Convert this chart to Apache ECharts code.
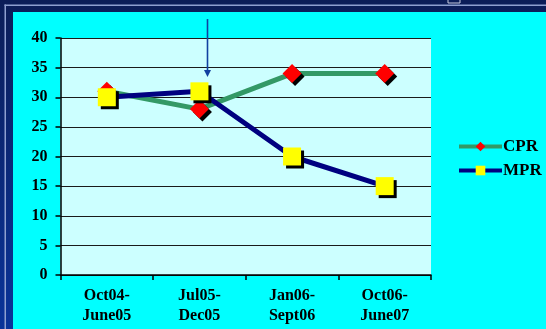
<!DOCTYPE html>
<html>
<head>
<meta charset="utf-8">
<script src="https://cdn.jsdelivr.net/npm/echarts@6/dist/echarts.min.js"></script>
<style>
  html, body { margin: 0; padding: 0; background: #0b2468; }
  #chart { width: 546px; height: 329px; }
</style>
</head>
<body>
<div id="chart"></div>
<script>
// Period categories along the x axis
const categories = ['Oct04-\nJune05', 'Jul05-\nDec05', 'Jan06-\nSept06', 'Oct06-\nJune07'];
// Series values
const cprValues = [31, 28, 34, 34];
const mprValues = [30, 31, 20, 15];
// Value axis range
const yMin = 0;
const yMax = 40;
const yStep = 5;
// Annotation arrow pointing down at the second period
const arrowCategory = 1;
const arrowFromValue = 43.2;
const arrowToValue = 33.4;

const serif = "'Liberation Serif', 'Times New Roman', serif";
const chart = echarts.init(document.getElementById('chart'), null, { renderer: 'canvas' });

const markerShadow = {
  shadowColor: '#000000',
  shadowBlur: 0,
  shadowOffsetX: 3,
  shadowOffsetY: 3
};

chart.setOption({
  animation: false,
  backgroundColor: new echarts.graphic.LinearGradient(0, 0, 0, 1, [
    { offset: 0, color: '#0b1d58' },
    { offset: 1, color: '#0a3399' }
  ]),
  graphic: [
    { id: 'lineV', type: 'rect', z: -10, shape: { x: 4.5, y: 4.5, width: 1.5, height: 330 }, style: { fill: '#8e9fd0' } },
    { id: 'lineH', type: 'rect', z: -10, shape: { x: 4.5, y: 4.5, width: 550, height: 1.5 }, style: { fill: '#8e9fd0' } },
    { id: 'panel', type: 'rect', z: -9, shape: { x: 13, y: 12, width: 540, height: 320 }, style: { fill: '#00FFFF' } },
    { id: 'tab', type: 'rect', z: -9, shape: { x: 448, y: -3, width: 12, height: 6 }, style: { fill: 'none', stroke: '#c8cce0', lineWidth: 1 } }
  ],
  grid: {
    left: 60.5,
    right: 115,
    top: 38,
    bottom: 54,
    show: true,
    backgroundColor: '#CCFFFF',
    borderWidth: 0
  },
  legend: {
    orient: 'vertical',
    left: 452,
    top: 133,
    itemWidth: 43,
    itemHeight: 12,
    itemGap: 7,
    lineStyle: { width: 4 },
    textStyle: { fontFamily: serif, fontWeight: 'bold', fontSize: 17, color: '#000', padding: [0, 0, 0, -4] },
    data: ['CPR', 'MPR']
  },
  xAxis: {
    type: 'category',
    data: categories,
    boundaryGap: true,
    axisLine: { lineStyle: { color: '#000', width: 1.5 } },
    axisTick: { show: true, length: 5, lineStyle: { color: '#000', width: 1.5 } },
    axisLabel: {
      fontFamily: serif, fontWeight: 'bold', fontSize: 16, color: '#000',
      lineHeight: 20, margin: 11, interval: 0
    },
    splitLine: { show: false }
  },
  yAxis: {
    type: 'value',
    min: yMin,
    max: yMax,
    interval: yStep,
    axisLine: { show: true, lineStyle: { color: '#000', width: 1.5 } },
    axisTick: { show: true, length: 5, lineStyle: { color: '#000', width: 1.5 } },
    axisLabel: { fontFamily: serif, fontWeight: 'bold', fontSize: 16, color: '#000', margin: 13 },
    splitLine: { show: true, lineStyle: { color: '#1a1a1a', width: 1.2 } }
  },
  series: [
    {
      name: 'CPR',
      type: 'line',
      data: cprValues,
      symbol: 'diamond',
      symbolSize: 19,
      lineStyle: { color: '#339966', width: 5 },
      itemStyle: Object.assign({ color: '#FF0000' }, markerShadow),
      z: 2
    },
    {
      name: 'MPR',
      type: 'line',
      data: mprValues,
      symbol: 'rect',
      symbolSize: 18,
      lineStyle: { color: '#000080', width: 5 },
      itemStyle: Object.assign({ color: '#FFFF00' }, markerShadow),
      z: 3
    }
  ]
});

// Place the annotation arrow from axis coordinates
const p0 = chart.convertToPixel({ gridIndex: 0 }, [arrowCategory, arrowFromValue]);
const p1 = chart.convertToPixel({ gridIndex: 0 }, [arrowCategory, arrowToValue]);
const ax = Math.round(p0[0]) + 0.5 + 8;
chart.setOption({
  graphic: [
    { id: 'arrowShaft', type: 'line', z: 10, shape: { x1: ax, y1: p0[1], x2: ax, y2: p1[1] - 5 }, style: { stroke: '#1040a0', lineWidth: 1.6 } },
    { id: 'arrowHead', type: 'polygon', z: 10, shape: { points: [[ax - 3.5, p1[1] - 7], [ax + 3.5, p1[1] - 7], [ax, p1[1]]] }, style: { fill: '#1040a0' } }
  ]
});
</script>
</body>
</html>
